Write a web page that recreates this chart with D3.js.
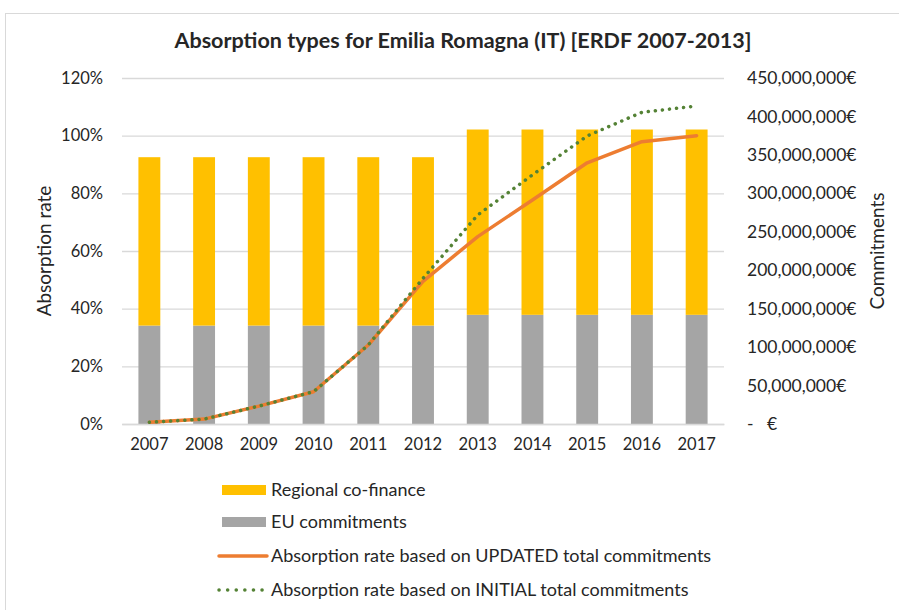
<!DOCTYPE html>
<html>
<head>
<meta charset="utf-8">
<script src="https://cdn.jsdelivr.net/npm/d3@7"></script>
<style>
  body { margin: 0; background: #fff; }
  text { font-family: Lato, "Open Sans", sans-serif; fill: #262626; }
</style>
</head>
<body>
<div id="figure-container"></div>
<script>
// data
var years = ['2007', '2008', '2009', '2010', '2011', '2012', '2013', '2014', '2015', '2016', '2017'];
var euCommitments = [128e6, 128e6, 128e6, 128e6, 128e6, 128e6, 142e6, 142e6, 142e6, 142e6, 142e6];
var regionalCofinance = [219e6, 219e6, 219e6, 219e6, 219e6, 219e6, 241e6, 241e6, 241e6, 241e6, 241e6];
var updatedRate = [0.006, 0.017, 0.062, 0.112, 0.274, 0.495, 0.65, 0.777, 0.906, 0.979, 1.0];
var initialRate = [0.006, 0.017, 0.062, 0.112, 0.274, 0.505, 0.725, 0.864, 0.999, 1.081, 1.103];
var leftTicks = [0, 0.2, 0.4, 0.6, 0.8, 1.0, 1.2];
var rightTicks = [0, 50e6, 100e6, 150e6, 200e6, 250e6, 300e6, 350e6, 400e6, 450e6];
var legendLabels = ['Regional co-finance', 'EU commitments',
  'Absorption rate based on UPDATED total commitments',
  'Absorption rate based on INITIAL total commitments'];

var COLORS = {
  regional: '#FFC000',
  eu: '#A5A5A5',
  updated: '#ED7D31',
  initial: '#548235',
  grid: '#D9D9D9'
};

var fullWidth = 899;
var fullHeight = 610;
var plot = {left: 122, right: 724, top: 78, bottom: 424};

var svg = d3.select('#figure-container')
  .append('svg')
  .attr('width', fullWidth)
  .attr('height', fullHeight);

// chart frame
svg.append('rect')
  .attr('x', 5.5)
  .attr('y', 13.5)
  .attr('width', fullWidth)
  .attr('height', fullHeight)
  .attr('fill', 'none')
  .attr('stroke', COLORS.grid);

var xScale = d3.scaleBand()
  .domain(years)
  .range([plot.left, plot.right])
  .paddingInner(0.6)
  .paddingOuter(0.3);

var yLeft = d3.scaleLinear()
  .domain([0, 1.2])
  .range([plot.bottom, plot.top]);

var yRight = d3.scaleLinear()
  .domain([0, 450e6])
  .range([plot.bottom, plot.top]);

// grid lines
var yGrid = d3.axisLeft(yLeft)
  .tickValues(leftTicks)
  .tickSize(-(plot.right - plot.left))
  .tickFormat('');
svg.append('g')
  .attr('class', 'grid y')
  .attr('transform', `translate(${plot.left},0)`)
  .call(yGrid)
  .call(g => g.select('.domain').remove())
  .call(g => g.selectAll('line').attr('stroke', COLORS.grid).attr('stroke-width', 1.3));

// stacked bars
var stackData = years.map((y, i) => ({year: y, eu: euCommitments[i], regional: regionalCofinance[i]}));
var series = d3.stack().keys(['eu', 'regional'])(stackData);

svg.append('g')
  .attr('class', 'bars')
  .selectAll('g')
  .data(series)
  .enter()
    .append('g')
    .attr('fill', d => COLORS[d.key])
    .selectAll('rect')
    .data(d => d)
    .enter()
      .append('rect')
      .attr('x', d => xScale(d.data.year))
      .attr('y', d => yRight(d[1]))
      .attr('width', xScale.bandwidth())
      .attr('height', d => yRight(d[0]) - yRight(d[1]));

// bottom axis
var xAxis = d3.axisBottom(xScale).tickSize(0).tickPadding(14);
svg.append('g')
  .attr('class', 'axis x')
  .attr('transform', `translate(0,${plot.bottom})`)
  .call(xAxis)
  .call(g => g.select('.domain').attr('stroke', COLORS.grid).attr('stroke-width', 1.3))
  .call(g => g.selectAll('text').style('font-size', '16.5px').attr('fill', '#262626'));

// left axis
var yAxisLeft = d3.axisLeft(yLeft)
  .tickValues(leftTicks)
  .tickSize(0)
  .tickPadding(19)
  .tickFormat(d3.format('.0%'));
svg.append('g')
  .attr('class', 'axis yl')
  .attr('transform', `translate(${plot.left},0)`)
  .call(yAxisLeft)
  .call(g => g.select('.domain').remove())
  .call(g => g.selectAll('text').style('font-size', '16.5px').attr('fill', '#262626'));

// right axis, accounting style labels
var euroFmt = d => d === 0 ? '-\u00A0\u00A0\u00A0€' : d3.format(',')(d) + '€';
var yAxisRight = d3.axisRight(yRight)
  .tickValues(rightTicks)
  .tickSize(0)
  .tickPadding(23)
  .tickFormat(euroFmt);
svg.append('g')
  .attr('class', 'axis yr')
  .attr('transform', `translate(${plot.right},0)`)
  .call(yAxisRight)
  .call(g => g.select('.domain').remove())
  .call(g => g.selectAll('text').style('font-size', '17.5px').attr('fill', '#262626'));

// lines
var line = d3.line()
  .x((d, i) => xScale(years[i]) + xScale.bandwidth() / 2)
  .y(d => yLeft(d));

svg.append('path')
  .datum(updatedRate)
  .attr('fill', 'none')
  .attr('stroke', COLORS.updated)
  .attr('stroke-width', 3.5)
  .attr('stroke-linejoin', 'round')
  .attr('stroke-linecap', 'round')
  .attr('d', line);

svg.append('path')
  .datum(initialRate)
  .attr('fill', 'none')
  .attr('stroke', COLORS.initial)
  .attr('stroke-width', 3.5)
  .attr('stroke-linecap', 'round')
  .attr('stroke-dasharray', '0.1 7')
  .attr('d', line);

// title
svg.append('text')
  .attr('x', 463)
  .attr('y', 48)
  .attr('text-anchor', 'middle')
  .attr('textLength', 577)
  .attr('lengthAdjust', 'spacingAndGlyphs')
  .style('font-size', '20px')
  .style('font-weight', 'bold')
  .attr('fill', '#000')
  .text('Absorption types for Emilia Romagna (IT) [ERDF 2007-2013]');

// axis titles
svg.append('text')
  .attr('transform', 'translate(51,251) rotate(-90)')
  .attr('text-anchor', 'middle')
  .style('font-size', '19px')
  .text('Absorption rate');

svg.append('text')
  .attr('transform', 'translate(884,251) rotate(-90)')
  .attr('text-anchor', 'middle')
  .style('font-size', '19px')
  .text('Commitments');

// legend
var legendY = [490, 522, 556, 590];
var legend = svg.append('g').attr('class', 'legend');
legendLabels.forEach((label, i) => {
  var g = legend.append('g').attr('transform', `translate(0,${legendY[i]})`);
  if (i < 2) {
    g.append('rect')
      .attr('x', 222).attr('y', -5)
      .attr('width', 44).attr('height', 10)
      .attr('fill', i === 0 ? COLORS.regional : COLORS.eu);
  } else if (i === 2) {
    g.append('line')
      .attr('x1', 219).attr('x2', 267)
      .attr('stroke', COLORS.updated)
      .attr('stroke-width', 3.5)
      .attr('stroke-linecap', 'round');
  } else {
    g.append('line')
      .attr('x1', 219).attr('x2', 267)
      .attr('stroke', COLORS.initial)
      .attr('stroke-width', 3.5)
      .attr('stroke-linecap', 'round')
      .attr('stroke-dasharray', '0.1 8.5');
  }
  g.append('text')
    .attr('x', 271)
    .attr('dy', '0.35em')
    .style('font-size', '18px')
    .text(label);
});
</script>
</body>
</html>
